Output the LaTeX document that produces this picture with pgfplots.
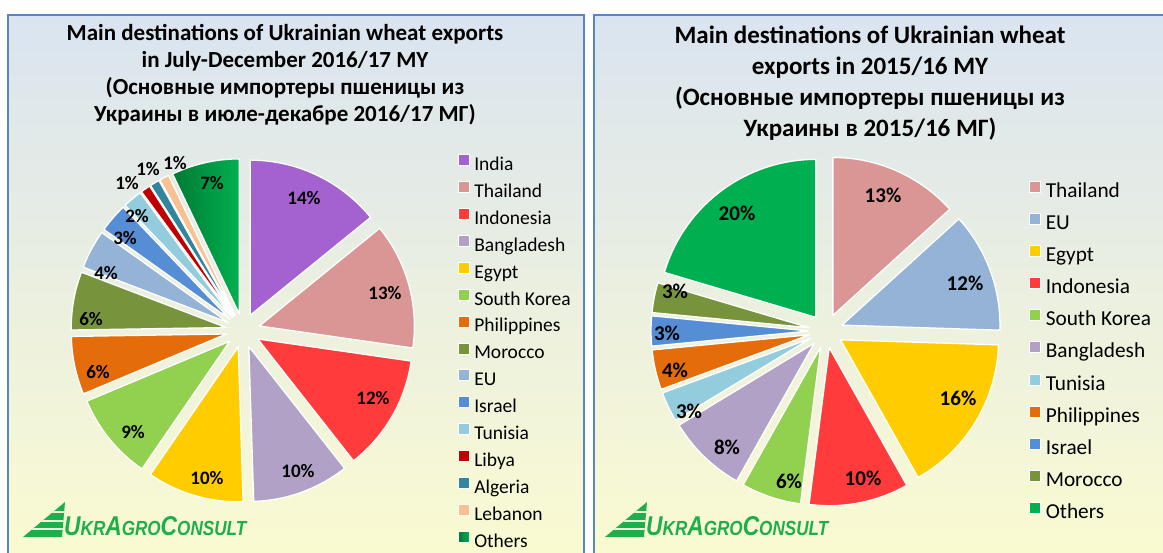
\documentclass[border=0pt]{standalone}
\usepackage{fontspec}
\setmainfont{Carlito}
\newfontfamily\logofont{Liberation Sans}
\usepackage{graphicx}
\usepackage{pgfplots}
\usepackage{pgfplotstable}
\pgfplotsset{compat=1.18}

\definecolor{cIndia}{HTML}{A461D0}
\definecolor{cThai}{HTML}{D99694}
\definecolor{cIndo}{HTML}{FF3B3B}
\definecolor{cBang}{HTML}{B2A1C7}
\definecolor{cEgypt}{HTML}{FFCC00}
\definecolor{cKorea}{HTML}{92D050}
\definecolor{cPhil}{HTML}{E46C0A}
\definecolor{cMor}{HTML}{77933C}
\definecolor{cEU}{HTML}{95B3D7}
\definecolor{cIsr}{HTML}{558ED5}
\definecolor{cTun}{HTML}{93CDDD}
\definecolor{cLib}{HTML}{C00000}
\definecolor{cAlg}{HTML}{31859C}
\definecolor{cLeb}{HTML}{FAC090}
\definecolor{cOth}{HTML}{00B050}
\definecolor{cOthD}{HTML}{007A33}
\definecolor{bgTop}{HTML}{DAE4F0}
\definecolor{bgBot}{HTML}{FBFBD0}
\definecolor{cBorder}{HTML}{5A86C0}
\definecolor{cLogo}{HTML}{1EAE4B}
\definecolor{cStripe}{HTML}{F2F4D8}

\tikzset{gOthers/.style={left color=cOthD, right color=cOth}}

\pgfplotstableread[col sep=comma]{
name,value,sty,lx,ly
India,14,fill=cIndia,61,132.5
Thailand,13,fill=cThai,142,37.5
Indonesia,12,fill=cIndo,130,-67.5
Bangladesh,10,fill=cBang,55,-140.5
Egypt,10,fill=cEgypt,-36,-147.5
South Korea,9,fill=cKorea,-110,-101.5
Philippines,6,fill=cPhil,-145,-41.5
Morocco,6,fill=cMor,-152,11.5
EU,4,fill=cEU,-137,57.5
Israel,3,fill=cIsr,-118,92.5
Tunisia,2,fill=cTun,-106,114.5
Libya,1,fill=cLib,-116,147.5
Algeria,1,fill=cAlg,-95,161.5
Lebanon,1,fill=cLeb,-68,167.5
Others,7,gOthers,-31,147.5
}\tabLeft

\pgfplotstableread[col sep=comma]{
name,value,sty,lx,ly
Thailand,13,fill=cThai,57,136
EU,12,fill=cEU,139,48
Egypt,16,fill=cEgypt,132,-67
Indonesia,10,fill=cIndo,37,-147
South Korea,6,fill=cKorea,-37,-150
Bangladesh,8,fill=cBang,-99,-116
Tunisia,3,fill=cTun,-137,-80
Philippines,4,fill=cPhil,-151,-39
Israel,3,fill=cIsr,-159,-2
Morocco,3,fill=cMor,-151,40
Others,20,fill=cOth,-89,118
}\tabRight

% #1 table, #2 last row index, #3 total, #4 explode, #5 radius, #6 label font size
\newcommand\drawpie[6]{%
  \gdef\cum{0}%
  \pgfplotsinvokeforeach{0,...,#2}{%
    \pgfplotstablegetelem{##1}{value}\of#1\edef\val{\pgfplotsretval}%
    \pgfplotstablegetelem{##1}{sty}\of#1\edef\sty{\pgfplotsretval}%
    \pgfplotstablegetelem{##1}{name}\of#1\edef\nm{\pgfplotsretval}%
    \pgfmathsetmacro\aS{90-\cum/#3*360}%
    \pgfmathsetmacro\aE{90-(\cum+\val)/#3*360}%
    \pgfmathsetmacro\aM{(\aS+\aE)/2}%
    \pgfmathsetmacro\dx{#4*cos(\aM)}%
    \pgfmathsetmacro\dy{#4*sin(\aM)}%
    \pgfmathsetmacro\newcum{\cum+\val}\xdef\cum{\newcum}%
    \edef\doplot{\noexpand\addplot[\sty, draw=white, line width=1.3pt, line join=round,
      domain=\aE:\aS, samples=60, variable=\noexpand\t]
      ({\dx+#5*cos(\noexpand\t)},{\dy+#5*sin(\noexpand\t)}) -- (axis cs:\dx,\dy) -- cycle;
      \noexpand\addlegendentry{\nm}}%
    \doplot
  }%
  \pgfplotsinvokeforeach{0,...,#2}{%
    \pgfplotstablegetelem{##1}{value}\of#1\edef\val{\pgfplotsretval}%
    \pgfplotstablegetelem{##1}{lx}\of#1\edef\lx{\pgfplotsretval}%
    \pgfplotstablegetelem{##1}{ly}\of#1\edef\ly{\pgfplotsretval}%
    \edef\dolab{\noexpand\node[font=\noexpand\fontsize{#6}{#6}\noexpand\selectfont\noexpand\bfseries, inner sep=0pt]
      at (axis cs:\lx,\ly) {\val\noexpand\%};}%
    \dolab
  }%
}

\pgfplotsset{pieaxis/.style={x=1pt, y=1pt, xmin=-200, xmax=200, ymin=-200, ymax=200,
  axis lines=none, clip=false, anchor=origin, legend cell align=left,
  legend image code/.code={\draw[##1, draw=white, line width=0.6pt] (0pt,0.5pt) rectangle (11pt,11.5pt);}}}

\newcommand\logo[2]{%
  \begin{scope}[shift={(#1,#2)}]
    \fill[cLogo] (0,0) -- (39,0) -- (42,35) -- cycle;
    \begin{scope}
      \clip (0,0) -- (39,0) -- (42,35) -- cycle;
      \fill[cStripe] (0,7) rectangle (50,9);
      \fill[cStripe] (0,15.5) rectangle (50,17.5);
      \fill[cStripe] (0,24) rectangle (50,26);
    \end{scope}
    \node[anchor=south west, inner sep=0pt] at (41,1) {\resizebox{182pt}{19pt}{\color{cLogo}\logofont\bfseries\itshape
      {\fontsize{24}{24}\selectfont U}{\fontsize{18}{18}\selectfont KR}{\fontsize{24}{24}\selectfont A}{\fontsize{18}{18}\selectfont GRO}{\fontsize{24}{24}\selectfont C}{\fontsize{18}{18}\selectfont ONSULT}}};
  \end{scope}}

\begin{document}
\begin{tikzpicture}[x=1pt,y=1pt]
\shade[top color=bgTop, bottom color=bgBot] (8,-15) rectangle (584,-570);
\shade[top color=bgTop, bottom color=bgBot] (594,-15) rectangle (1180,-570);
\draw[cBorder, line width=1.6pt] (8,-15) rectangle (584,-570);
\draw[cBorder, line width=1.6pt] (594,-15) rectangle (1180,-570);

\node[align=center, inner sep=0pt, font=\fontsize{23}{27}\selectfont\bfseries] at (285,-75)
  {Main destinations of Ukrainian wheat exports\\in July-December 2016/17 MY\\(Основные импортеры пшеницы из\\Украины в июле-декабре 2016/17 МГ)};
\node[align=center, inner sep=0pt, font=\fontsize{25}{31}\selectfont\bfseries] at (870,-83)
  {Main destinations of Ukrainian wheat\\exports in 2015/16 MY\\(Основные импортеры пшеницы из\\Украины в 2015/16 МГ)};

\begin{axis}[pieaxis, at={(243,-330.5)},
  legend style={at={(axis cs:215,176.5)}, anchor=north west, draw=none, fill=none,
    font=\fontsize{19.5}{20}\selectfont, inner sep=0pt, row sep=6.6pt,
    nodes={inner sep=0pt, text height=13pt, text depth=4pt},
    /tikz/every odd column/.append style={column sep=4.5pt}}]
\drawpie{\tabLeft}{14}{99}{17}{155}{19}
\end{axis}

\begin{axis}[pieaxis, at={(826,-331)},
  legend style={at={(axis cs:203,150.5)}, anchor=north west, draw=none, fill=none,
    font=\fontsize{21.3}{22}\selectfont, inner sep=0pt, row sep=11.1pt,
    nodes={inner sep=0pt, text height=14pt, text depth=4.5pt},
    /tikz/every odd column/.append style={column sep=5pt}}]
\drawpie{\tabRight}{10}{98}{17}{158}{21}
\end{axis}

\logo{23}{-537}
\logo{605}{-537}

\pgfresetboundingbox
\useasboundingbox (0,0) rectangle (1163,-553);
\end{tikzpicture}
\end{document}
